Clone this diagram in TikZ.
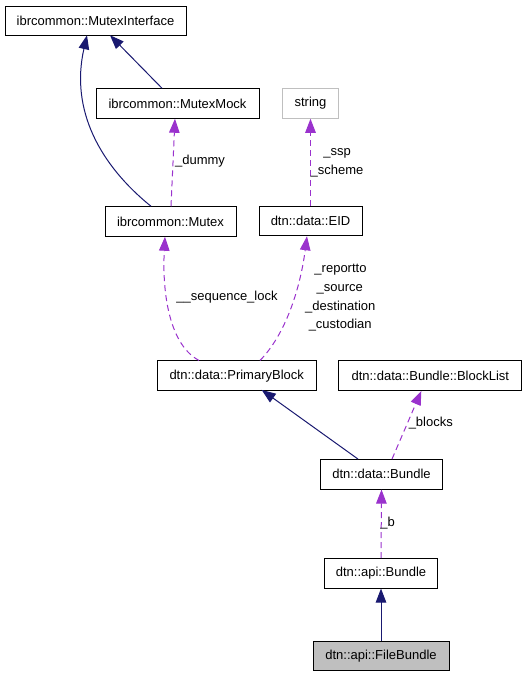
\documentclass[tikz,border=0pt]{standalone}
\usepackage{fontspec}
\setmainfont{Liberation Sans}
\usetikzlibrary{arrows.meta}
\definecolor{inh}{HTML}{191970}
\definecolor{use}{HTML}{9A32CD}
\definecolor{grayb}{HTML}{BFBFBF}
\begin{document}
\begin{tikzpicture}[x=1pt,y=-1pt,
  font=\fontsize{13}{15}\selectfont,
  cls/.style={draw=black,line width=1pt,inner sep=0pt,minimum height=29.5pt,fill=white},
  lbl/.style={inner sep=0pt,text height=9.5pt,text depth=2.7pt},
  inhedge/.style={draw=inh,line width=1pt,-{Triangle[length=14pt,width=10.5pt]}},
  useedge/.style={draw=use,line width=1pt,dash pattern=on 6pt off 4pt,-{Triangle[length=14pt,width=10.5pt,fill=use,sep=0pt]}}]
\useasboundingbox (0,0) rectangle (527,677);
\node[cls,minimum width=181pt] (mi) at (95.5,21) {ibrcommon::MutexInterface};
\node[cls,minimum width=163pt] (mm) at (177.5,103.5) {ibrcommon::MutexMock};
\node[cls,minimum width=131pt] (mx) at (170.5,221.5) {ibrcommon::Mutex};
\node[cls,draw=grayb,minimum width=56pt] (str) at (310.5,103.5) {string};
\node[cls,minimum width=103pt] (eid) at (310.5,221) {dtn::data::EID};
\node[cls,minimum width=159pt] (pb) at (236.7,375.7) {dtn::data::PrimaryBlock};
\node[cls,minimum width=183pt] (bl) at (430.3,375.7) {dtn::data::Bundle::BlockList};
\node[cls,minimum width=122pt] (db) at (381.5,474.3) {dtn::data::Bundle};
\node[cls,minimum width=113pt] (ab) at (381,573.3) {dtn::api::Bundle};
\node[cls,fill=grayb,minimum width=136pt] (fb) at (381,656) {dtn::api::FileBundle};

\draw[inhedge] ([xshift=-15.5pt]mm.north) -- ([xshift=14.5pt,yshift=1pt]mi.south);
\draw[inhedge] ([xshift=-19.5pt]mx.north) .. controls (100,165) and (70,110) .. ([xshift=-8.5pt,yshift=1pt]mi.south);
\draw[useedge] ([xshift=0.5pt]mx.north) -- ([xshift=-2.5pt]mm.south);
\draw[useedge] (eid.north) -- (str.south);
\draw[useedge] ([xshift=-37.7pt]pb.north) .. controls (170,345) and (162,295) .. ([xshift=-5.5pt]mx.south);
\draw[useedge] ([xshift=23.3pt]pb.north) .. controls (285,335) and (300,290) .. ([xshift=-3.5pt]eid.south);
\draw[inhedge] ([xshift=-23.5pt]db.north) -- ([xshift=25pt,yshift=1pt]pb.south);
\draw[useedge] ([xshift=10.5pt]db.north) -- ([xshift=-9pt]bl.south);
\draw[useedge] (ab.north) -- (db.south);
\draw[inhedge] (fb.north) -- (ab.south);

\node[lbl] (ldummy) at (200,161) {\_dummy};
\node[lbl] (lssp) at (337,152) {\_ssp};
\node[lbl] (lscheme) at (337,171) {\_scheme};
\node[lbl] (lseq) at (227,297) {\_\_sequence\_lock};
\node[lbl] (lrep) at (340.5,269) {\_reportto};
\node[lbl] (lsrc) at (339.7,288) {\_source};
\node[lbl] (ldst) at (340.3,307) {\_destination};
\node[lbl] (lcus) at (340.2,325) {\_custodian};
\node[lbl] (lblk) at (430.8,423) {\_blocks};
\node[lbl] (lb) at (387.5,523) {\_b};
\end{tikzpicture}
\end{document}
